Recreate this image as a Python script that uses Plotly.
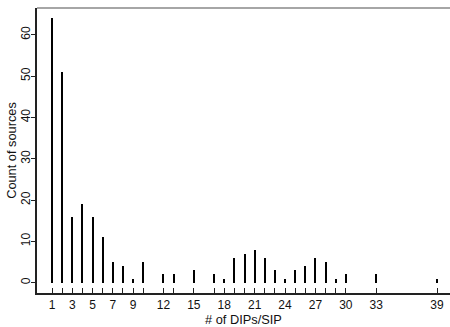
import plotly.graph_objects as go

dips = [1, 2, 3, 4, 5, 6, 7, 8, 9, 10, 12, 13, 15, 17, 18, 19, 20, 21, 22, 23, 24, 25, 26, 27, 28, 29, 30, 33, 39]
counts = [64, 51, 16, 19, 16, 11, 5, 4, 1, 5, 2, 2, 3, 2, 1, 6, 7, 8, 6, 3, 1, 3, 4, 6, 5, 1, 2, 2, 1]
labeled_ticks = [1, 3, 5, 7, 9, 12, 15, 18, 21, 24, 27, 30, 33, 39]
y_ticks = [0, 10, 20, 30, 40, 50, 60]

font = dict(family="Liberation Sans, Arial, sans-serif", size=12, color="#111")
title_font = dict(family="Liberation Sans, Arial, sans-serif", size=12.8, color="#111")

fig = go.Figure()
fig.add_trace(go.Bar(x=dips, y=counts, width=0.2, marker=dict(color="black", line=dict(width=0)),
                     showlegend=False))

fig.update_layout(
    width=450, height=327,
    margin=dict(l=37, r=0, t=8, b=34),
    paper_bgcolor="white", plot_bgcolor="white",
    font=font,
    bargap=0,
    xaxis=dict(
        range=[-0.48, 40.28],
        tickmode="array",
        tickvals=dips,
        ticktext=[str(v) if v in labeled_ticks else "" for v in dips],
        ticks="inside", ticklen=5, tickwidth=1, tickcolor="#222",
        showline=True, linecolor="#222", linewidth=1.5,
        showgrid=False, zeroline=False,
        title=dict(text="# of DIPs/SIP", standoff=2, font=title_font),
        tickfont=font,
    ),
    yaxis=dict(
        range=[-2.5, 66.5],
        tickmode="array", tickvals=y_ticks,
        ticks="outside", ticklen=4, tickwidth=1, tickcolor="#222",
        tickangle=-90, ticklabelstandoff=-4,
        showline=True, linecolor="#222", linewidth=1.5,
        showgrid=False, zeroline=False,
        title=dict(text="Count of sources", standoff=0, font=title_font),
        tickfont=font,
    ),
    shapes=[dict(type="line", xref="paper", yref="paper", x0=0, x1=1, y0=1, y1=1,
                 line=dict(color="#888", width=1.5))],
)

fig.write_html("out.html")
